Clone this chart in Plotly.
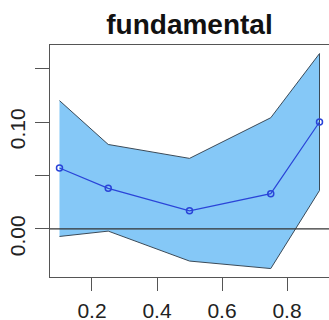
import plotly.graph_objects as go

# Data
x_vals = [0.1, 0.25, 0.5, 0.75, 0.9]
mean_vals = [0.057, 0.038, 0.017, 0.033, 0.100]
upper_vals = [0.120, 0.079, 0.066, 0.104, 0.164]
lower_vals = [-0.007, -0.002, -0.030, -0.037, 0.036]

x_ticks = [0.2, 0.4, 0.6, 0.8]
x_ticktext = ["0.2", "0.4", "0.6", "0.8"]
y_ticks = [0.0, 0.05, 0.10, 0.15]
y_ticktext = ["0.00", "", "0.10", ""]

title_text = "fundamental"

FONT = "Liberation Sans, Arial, Helvetica, sans-serif"

fig = go.Figure()

poly_x = x_vals + x_vals[::-1]
poly_y = upper_vals + lower_vals[::-1]
fig.add_trace(go.Scatter(
    x=poly_x, y=poly_y, mode="lines", fill="toself",
    fillcolor="#85C8F7", line=dict(color="#3a4a58", width=1),
    hoverinfo="skip", showlegend=False,
))
fig.add_trace(go.Scatter(
    x=x_vals, y=mean_vals, mode="lines+markers",
    line=dict(color="#2a44d8", width=1.2),
    marker=dict(symbol="circle-open", size=6, color="#2a44d8", line=dict(width=1.5)),
    showlegend=False,
))

fig.add_shape(type="line", xref="paper", yref="y", x0=0, x1=1, y0=0, y1=0,
              line=dict(color="#333333", width=1.2), layer="above")

fig.update_layout(
    width=329, height=320,
    margin=dict(l=50, r=0, t=45, b=43, autoexpand=False),
    plot_bgcolor="white", paper_bgcolor="white",
    title=dict(text="<b>" + title_text + "</b>", x=0.5, xref="paper",
               y=1 - 24 / 320, yref="container", yanchor="middle", xanchor="center",
               font=dict(family=FONT, size=28, color="#111111")),
    font=dict(family=FONT, color="#222222"),
)
fig.update_xaxes(
    range=[0.0708, 0.9292], tickvals=x_ticks, ticktext=x_ticktext, automargin=False,
    showgrid=False, zeroline=False, showline=True, mirror=True,
    linecolor="#555555", linewidth=1.2,
    ticks="outside", ticklen=13, tickcolor="#555555", tickwidth=1.2,
    tickfont=dict(size=21, family=FONT, color="#222222"), ticklabelstandoff=2,
)
fig.update_yaxes(
    range=[-0.0449, 0.1720], tickvals=y_ticks, ticktext=y_ticktext, automargin=False,
    showgrid=False, zeroline=False, showline=True, mirror=False,
    linecolor="#555555", linewidth=1.2,
    ticks="outside", ticklen=14, tickcolor="#555555", tickwidth=1.2,
    tickangle=-90, ticklabelshift=10, ticklabelstandoff=2,
    tickfont=dict(size=21, family=FONT, color="#222222"),
)

fig.write_html("out.html", config={"displayModeBar": False},
               post_script="document.body.style.margin='0';document.body.style.overflow='hidden';")
